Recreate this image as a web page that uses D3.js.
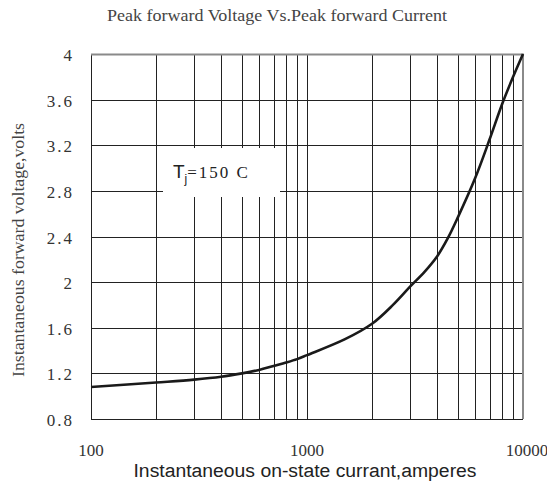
<!DOCTYPE html>
<html>
<head>
<meta charset="utf-8">
<script src="https://cdn.jsdelivr.net/npm/d3@7"></script>
<style>
  body { margin: 0; background: #fff; }
  svg { display: block; }
  .serif { font-family: "Liberation Serif", "DejaVu Serif", serif; }
  .sans { font-family: "Liberation Sans", Arial, sans-serif; }
</style>
</head>
<body>
<svg id="chart" width="547" height="487"></svg>
<script>
// peak forward current (A) vs instantaneous forward voltage (V)
var current = [100, 200, 300, 400, 500, 600, 700, 800, 900, 1000, 1500, 2000, 2500, 3000, 3500, 4000, 4500, 5000, 6000, 7000, 8000, 9000, 10000];
var voltage = [1.08, 1.12, 1.145, 1.17, 1.2, 1.23, 1.265, 1.295, 1.325, 1.36, 1.5, 1.635, 1.8, 1.96, 2.09, 2.225, 2.39, 2.57, 2.91, 3.25, 3.56, 3.8, 4.0];
var yTicks = [0.8, 1.2, 1.6, 2, 2.4, 2.8, 3.2, 3.6, 4];
var xTickLabels = [100, 1000, 10000];

var svg = d3.select("#chart");

var xScale = d3.scaleLog().domain([100, 10000]).range([91, 523]);
var yScale = d3.scaleLinear().domain([0.8, 4]).range([419, 54]);

var grid = svg.append("g").attr("id", "grid");

// vertical grid lines, every 1..9 of each decade
grid.selectAll("line.v")
    .data(xScale.ticks())
    .enter()
    .append("line")
    .attr("class", "v")
    .attr("x1", function (d) { return Math.round(xScale(d)) + 0.5; })
    .attr("x2", function (d) { return Math.round(xScale(d)) + 0.5; })
    .attr("y1", yScale(4))
    .attr("y2", yScale(0.8))
    .attr("stroke", "#222")
    .attr("stroke-width", 1);

// horizontal grid lines
grid.selectAll("line.h")
    .data(yTicks)
    .enter()
    .append("line")
    .attr("class", "h")
    .attr("x1", xScale(100))
    .attr("x2", xScale(10000))
    .attr("y1", function (d) { return Math.round(yScale(d)) + 0.5; })
    .attr("y2", function (d) { return Math.round(yScale(d)) + 0.5; })
    .attr("stroke", "#222")
    .attr("stroke-width", 1);

// top and right frame are a bit heavier and grey
svg.append("path")
    .attr("d", "M" + xScale(100) + "," + (yScale(4) + 0.5) + "H" + xScale(10000) + "V" + yScale(0.8))
    .attr("fill", "none")
    .attr("stroke", "#8a8a8a")
    .attr("stroke-width", 2);

// white box behind the temperature label
svg.append("rect")
    .attr("x", 163)
    .attr("y", 148)
    .attr("width", 117)
    .attr("height", 49)
    .attr("fill", "#fff");

svg.append("text")
    .attr("class", "serif")
    .attr("x", 173)
    .attr("y", 178)
    .style("font-size", "17px")
    .attr("fill", "#222")
    .call(function (t) {
        t.append("tspan").attr("class", "sans").style("font-size", "19px").text("T");
        t.append("tspan").attr("class", "sans").attr("dy", 5).style("font-size", "12px").text("j");
        t.append("tspan").attr("dy", -5).style("letter-spacing", "2px").text("=150  C");
    });

// the curve
var line = d3.line()
    .x(function (d) { return xScale(d[0]); })
    .y(function (d) { return yScale(d[1]); })
    .curve(d3.curveCatmullRom.alpha(0.5));

svg.append("path")
    .datum(d3.zip(current, voltage))
    .attr("fill", "none")
    .attr("stroke", "#1a1a1a")
    .attr("stroke-width", 2.6)
    .attr("d", line);

// y tick labels
svg.selectAll("text.ytick")
    .data(yTicks)
    .enter()
    .append("text")
    .attr("class", "ytick serif")
    .attr("x", 74)
    .attr("y", function (d) { return yScale(d) + 7; })
    .attr("text-anchor", "end")
    .style("font-size", "17px")
    .style("letter-spacing", "2px")
    .attr("fill", "#333")
    .text(function (d) { return d % 1 === 0 ? d : d.toFixed(1); });

// x tick labels
svg.selectAll("text.xtick")
    .data(xTickLabels)
    .enter()
    .append("text")
    .attr("class", "xtick serif")
    .attr("x", function (d) { return d === 10000 ? xScale(d) + 4 : xScale(d); })
    .attr("y", 456)
    .attr("text-anchor", "middle")
    .style("font-size", "17px")
    .attr("fill", "#333")
    .text(function (d) { return d; });

// axis titles
svg.append("text")
    .attr("class", "sans")
    .attr("x", 305)
    .attr("y", 477)
    .attr("text-anchor", "middle")
    .style("font-size", "18px")
    .attr("fill", "#222")
    .attr("textLength", 343)
    .attr("lengthAdjust", "spacingAndGlyphs")
    .text("Instantaneous on-state currant,amperes");

svg.append("text")
    .attr("class", "serif")
    .attr("transform", "translate(24,250) rotate(-90)")
    .attr("text-anchor", "middle")
    .style("font-size", "17px")
    .attr("fill", "#444")
    .attr("textLength", 254)
    .attr("lengthAdjust", "spacingAndGlyphs")
    .text("Instantaneous forward voltage,volts");

// chart title
svg.append("text")
    .attr("class", "serif")
    .attr("x", 277)
    .attr("y", 21)
    .attr("text-anchor", "middle")
    .style("font-size", "16px")
    .attr("fill", "#444")
    .attr("textLength", 340)
    .attr("lengthAdjust", "spacingAndGlyphs")
    .text("Peak forward Voltage Vs.Peak forward Current");
</script>
</body>
</html>
